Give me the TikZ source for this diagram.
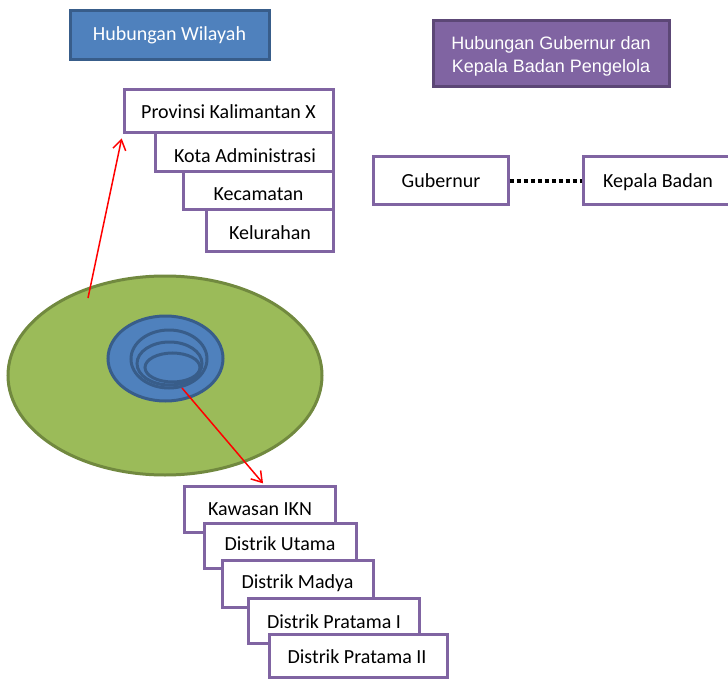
\documentclass[tikz,border=0pt]{standalone}
\usepackage{fontspec}
\setmainfont{Carlito}
\newfontfamily\arialfam{Liberation Sans}
\usetikzlibrary{arrows.meta,shapes.geometric}
\definecolor{pptblue}{HTML}{4F81BD}
\definecolor{pptblueline}{HTML}{385D8A}
\definecolor{pptpurple}{HTML}{8064A2}
\definecolor{pptpurpleline}{HTML}{5C4776}
\definecolor{pptgreen}{HTML}{9BBB59}
\definecolor{pptgreenline}{HTML}{71893F}
\tikzset{
  pbox/.style={draw=pptpurple, fill=white, line width=3pt, rectangle, inner sep=0pt},
  lbl/.style={anchor=base, inner sep=0pt, font=\fontsize{20}{24}\selectfont, text=black},
  titleblue/.style={draw=pptblueline, fill=pptblue, line width=3pt, rectangle, inner sep=0pt},
  titlepurple/.style={draw=pptpurpleline, fill=pptpurple, line width=3pt, rectangle, inner sep=0pt},
  wlbl/.style={anchor=base, inner sep=0pt, text=white},
  ring/.style={ellipse, draw=pptblueline, line width=3pt, inner sep=0pt},
  redarrow/.style={draw=red, line width=1.5pt, -{Straight Barb[length=10pt,width=13pt]}},
}
\begin{document}
\begin{tikzpicture}[x=1pt,y=-1pt]
\useasboundingbox (0,0) rectangle (728,679);
\begin{scope}
\clip (0,0) rectangle (728,679);
% titles
\node[titleblue, minimum width=199, minimum height=49] (tw) at (169.5,35.5) {};
\node[wlbl, font=\fontsize{20}{24}\selectfont] (twt) at (169.5,41) {Hubungan Wilayah};
\node[titlepurple, minimum width=236, minimum height=66] (tp) at (551,54) {};
\node[wlbl, font=\arialfam\fontsize{18}{23}\selectfont] (tpt1) at (551,49.5) {Hubungan Gubernur dan};
\node[wlbl, font=\arialfam\fontsize{18}{23}\selectfont] (tpt2) at (551,72.5) {Kepala Badan Pengelola};

% upper stack
\node[pbox, minimum width=127, minimum height=44] (kel) at (269.5,229) {};
\node[pbox, minimum width=150, minimum height=41] (kec) at (258,189.5) {};
\node[pbox, minimum width=178, minimum height=42] (kota) at (244,151) {};
\node[pbox, minimum width=209, minimum height=43] (prov) at (228.5,111.5) {};
\node[lbl] (provt) at (228.5,119) {Provinsi Kalimantan X};
\node[lbl] (kotat) at (245,162.5) {Kota Administrasi};
\node[lbl] (kect) at (258.5,200.5) {Kecamatan};
\node[lbl] (kelt) at (270,239.5) {Kelurahan};

% gubernur / kepala badan
\node[pbox, minimum width=135, minimum height=48] (gub) at (440.5,181) {};
\node[lbl] (gubt) at (441,187.5) {Gubernur};
\node[pbox, minimum width=150, minimum height=48] (kep) at (658,181) {};
\node[lbl] (kept) at (658,187.5) {Kepala Badan};
\draw[line width=4pt, dash pattern=on 4pt off 3pt] (gub.east) -- (kep.west);

% ellipses
\node[ellipse, draw=pptgreenline, fill=pptgreen, line width=3pt, inner sep=0pt,
      minimum width=314, minimum height=199] (land) at (165,375.5) {};
\node[ring, fill=pptblue, minimum width=115, minimum height=85] (ikn) at (165.5,358.5) {};
\node[ring, minimum width=76, minimum height=58] (r1) at (169,359) {};
\node[ring, minimum width=65, minimum height=43] (r2) at (169.5,363.5) {};
\node[ring, minimum width=55, minimum height=29] (r3) at (172.5,367.5) {};

% lower stack
\node[pbox, minimum width=151, minimum height=46] (kaw) at (259.5,509) {};
\node[lbl] (kawt) at (260,515.5) {Kawasan IKN};
\node[pbox, minimum width=152, minimum height=45] (ut) at (280,545.5) {};
\node[lbl] (utt) at (280,550.5) {Distrik Utama};
\node[pbox, minimum width=151, minimum height=47] (mad) at (297.5,583.5) {};
\node[lbl] (madt) at (297.5,588.5) {Distrik Madya};
\node[pbox, minimum width=171, minimum height=45] (pr1) at (333.5,620.5) {};
\node[lbl] (pr1t) at (334,628.5) {Distrik Pratama I};
\node[pbox, minimum width=178, minimum height=43] (pr2) at (358,655.5) {};
\node[lbl] (pr2t) at (357,663.5) {Distrik Pratama II};

% arrows
\coordinate (a1s) at (88,298);
\coordinate (a2s) at (182,388);
\draw[redarrow, shorten >=4pt] (a1s) -- (prov.south west);
\draw[redarrow, shorten >=1.5pt] (a2s) -- ([xshift=4.5pt]kaw.north);
\end{scope}
\end{tikzpicture}
\end{document}
